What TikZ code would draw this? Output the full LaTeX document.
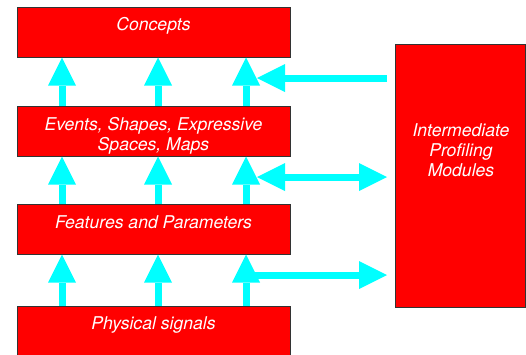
\documentclass[tikz,border=0pt]{standalone}
\usepackage{fontspec}
\setmainfont{TeX Gyre Heros}
\usetikzlibrary{arrows.meta}
\definecolor{boxred}{HTML}{FF0000}
\definecolor{arrcyan}{HTML}{00FFFF}
\definecolor{edgegray}{HTML}{333333}
\begin{document}
\begin{tikzpicture}[x=1pt,y=-1pt,
 box/.style={draw=edgegray,line width=1pt,fill=boxred,inner sep=0pt},
 lbl/.style={text=white,font=\fontsize{17.6}{20}\selectfont\itshape,anchor=base,inner sep=0pt},
 arr/.style={draw=arrcyan,line width=7pt,-{Triangle[length=28pt,width=28pt,line width=0pt]}},
 darr/.style={draw=arrcyan,line width=7pt,{Triangle[length=28pt,width=28pt,line width=0pt]}-{Triangle[length=28pt,width=28pt,line width=0pt]}}]
\useasboundingbox (0,0) rectangle (526,354);
\begin{scope}
\clip (0,0) rectangle (526,354);
% boxes
\node[box,minimum width=273pt,minimum height=50pt] (c) at (153.5,32) {};
\node[box,minimum width=273pt,minimum height=50pt] (e) at (153.5,131) {};
\node[box,minimum width=273pt,minimum height=50pt] (f) at (153.5,229) {};
\node[box,minimum width=273pt,minimum height=50pt] (p) at (153.5,331) {};
\node[box,minimum width=130pt,minimum height=263pt] (rb) at (460,175.5) {};
% labels
\node[lbl] (ct) at (153.5,30.5) {Concepts};
\node[lbl] (et1) at (153.5,130) {Events, Shapes, Expressive};
\node[lbl] (et2) at (153.5,150) {Spaces, Maps};
\node[lbl] (ft) at (153.5,228) {Features and Parameters};
\node[lbl] (pt) at (153.5,329) {Physical signals};
\node[lbl] (r1) at (461,136) {Intermediate};
\node[lbl] (r2) at (461,156) {Profiling};
\node[lbl] (r3) at (461,176) {Modules};
% vertical arrows
\foreach \dx in {-91.5,4.5,92.5}{
  \draw[arr] ([xshift=\dx pt]e.north) -- ([xshift=\dx pt]c.south);
  \draw[arr] ([xshift=\dx pt]f.north) -- ([xshift=\dx pt]e.south);
  \draw[arr] ([xshift=\dx pt]p.north) -- ([xshift=\dx pt]f.south);
}
% horizontal arrows
\coordinate (h1a) at (387,78);
\coordinate (h1b) at (257,78);
\coordinate (h2a) at (387,177);
\coordinate (h2b) at (257,177);
\coordinate (h3a) at (255,275);
\coordinate (h3b) at (387,275);
\draw[arr] (h1a) -- (h1b);
\draw[darr] (h2b) -- (h2a);
\draw[arr] (h3a) -- (h3b);
\end{scope}
\end{tikzpicture}
\end{document}
